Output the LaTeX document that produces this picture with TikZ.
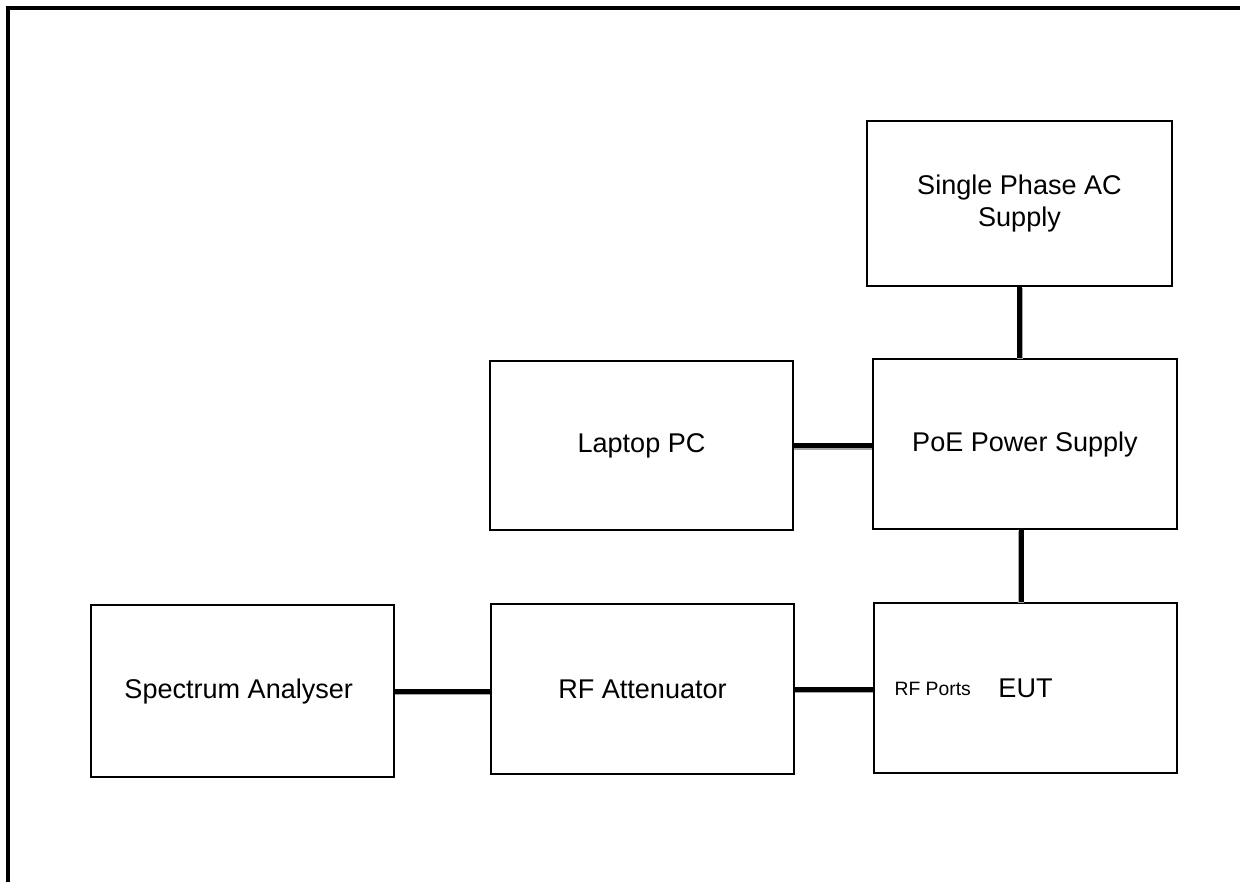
\documentclass[tikz,border=0pt]{standalone}
\usepackage{fontspec}
\setmainfont{Liberation Sans}
\usepackage{tikz}
\usetikzlibrary{calc}

\tikzset{
unit/.style={draw, line width=0.9pt, rectangle, align=center, inner sep=0pt,
  font=\fontsize{15.4}{18.5}\selectfont},
cable/.style={line width=0.1cm, preaction={draw=black!35, line width=0.12cm, transform canvas={yshift=-0.6pt}}}
}

\begin{document}
\begin{tikzpicture}[x=0.02cm,y=-0.02cm]
\useasboundingbox (0,0) rectangle (1240,882);
\draw[line width=0.08cm, line join=miter] (8,882)--(8,8)--(1240,8);
\foreach \n/\x/\y/\w/\h/\t in {
ac/1019.5/203.5/305/165/{Single Phase AC\\Supply},
poe/1025/444/304/170/{PoE Power Supply},
laptop/641.5/445.5/303/169/{Laptop PC},
eut/1025.5/688/303/170/{EUT},
att/642.5/689/303/170/{RF Attenuator},
sa/242.5/691/303/172/{Spectrum Analyser}
}{
\node[unit, minimum width=\w*0.02cm, minimum height=\h*0.02cm] (\n) at (\x,\y) {\t};
}
\node[anchor=west, inner sep=0pt, font=\fontsize{11}{13}\selectfont] (rfports) at ($(eut.west)+(21,1)$) {RF Ports};
\draw[cable] (ac.south)--(ac.south |- poe.north);
\draw[cable] ($(poe.south)+(-4,0)$)--($(poe.south |- eut.north)+(-4,0)$);
\draw[cable] (laptop.east)--(laptop.east -| poe.west);
\draw[cable] (att.east)--(att.east -| eut.west);
\draw[cable] (sa.east)--(sa.east -| att.west);
\end{tikzpicture}
\end{document}
